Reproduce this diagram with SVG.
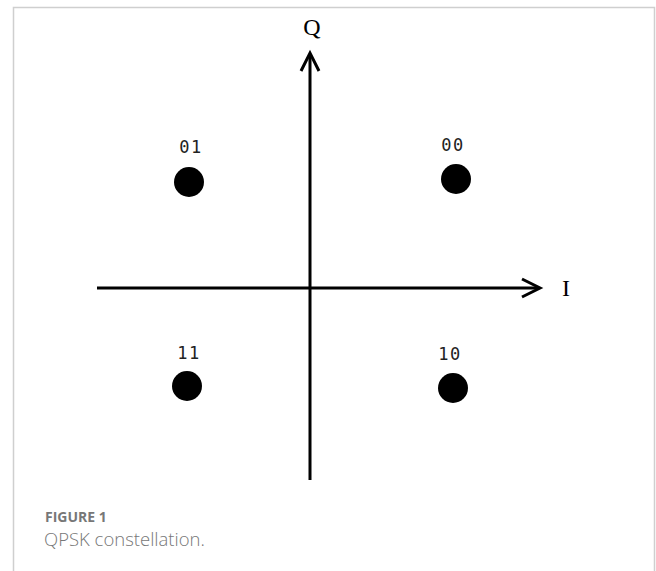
<svg xmlns="http://www.w3.org/2000/svg" width="656" height="571" viewBox="0 0 656 571">
<style>
.axis{stroke:#000;stroke-width:3;fill:none}
.head{stroke:#000;stroke-width:3;fill:none;stroke-linejoin:miter}
.dot{fill:#000}
.lbl{font-family:"DejaVu Sans Mono","Liberation Mono",monospace;font-size:17px;fill:#222;text-anchor:middle;letter-spacing:1.5px}
.axlbl{font-family:"Liberation Serif",serif;font-size:24px;fill:#000;text-anchor:middle}
.cap1{font-family:"Open Sans","Liberation Sans",sans-serif;font-size:14px;font-weight:bold;fill:#777}
.cap2{font-family:"Open Sans","Liberation Sans",sans-serif;font-size:18.5px;font-weight:300;fill:#777}
</style>
<rect x="0" y="0" width="656" height="571" fill="#fff"/>
<path d="M13.5 571 V7.5 H654.5 V571" fill="none" stroke="#cfcfcf" stroke-width="1.5"/>
<g id="connectors">
<line class="axis" x1="97" y1="288" x2="539" y2="288"/>
<line class="axis" x1="310" y1="480" x2="310" y2="54"/>
<polyline class="head" points="522,279 540,288 522,297"/>
<polyline class="head" points="301,71 310,53 319,71"/>
</g>
<g id="axis-Q"><text class="axlbl" x="312" y="35">Q</text></g>
<g id="axis-I"><text class="axlbl" x="566" y="296">I</text></g>
<g id="pt-01"><text class="lbl" x="191" y="153">01</text><circle class="dot" cx="189" cy="182" r="15"/></g>
<g id="pt-00"><text class="lbl" x="453" y="151">00</text><circle class="dot" cx="456" cy="179" r="15"/></g>
<g id="pt-11"><text class="lbl" x="189" y="359">11</text><circle class="dot" cx="187" cy="386" r="15"/></g>
<g id="pt-10"><text class="lbl" x="450" y="360">10</text><circle class="dot" cx="453" cy="388" r="15"/></g>
<g id="caption">
<text class="cap1" x="45" y="522">FIGURE 1</text>
<text class="cap2" x="44" y="546">QPSK constellation.</text>
</g>
</svg>
